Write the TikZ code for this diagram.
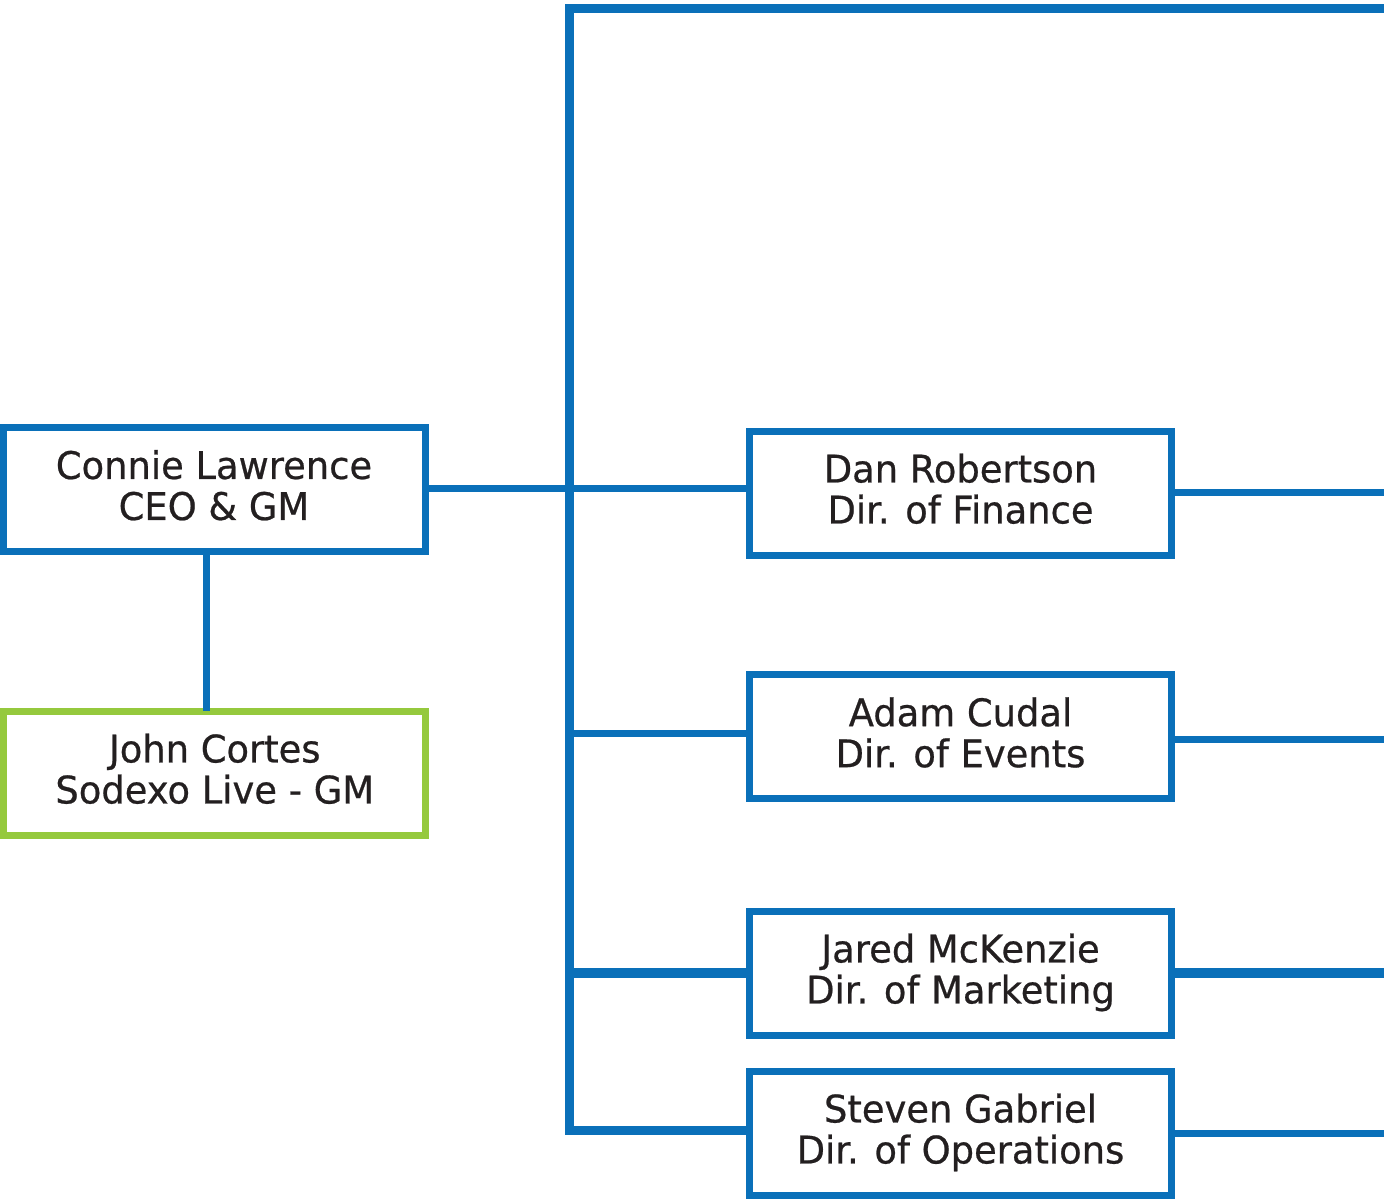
\documentclass[tikz,border=0pt]{standalone}
\usepackage{fontspec}
\setmainfont[FakeBold=0.6,FakeStretch=0.97]{DejaVu Sans}
\definecolor{orgblue}{RGB}{10,112,185}
\definecolor{orggreen}{RGB}{149,201,61}
\definecolor{txt}{RGB}{35,31,32}
\begin{document}
\begin{tikzpicture}[x=1pt,y=-1pt,
  box/.style={draw=orgblue,line width=7pt,fill=white,minimum width=422pt,minimum height=124pt,
    inner sep=0pt,outer sep=0pt,align=center,text=txt,font=\fontsize{38}{41}\selectfont,
    execute at end node={\rule[-9pt]{0pt}{0pt}}},
  gbox/.style={box,draw=orggreen},
  conn/.style={draw=orgblue,line width=7pt},
  trunk/.style={draw=orgblue,line width=9pt}]
\useasboundingbox (0,0) rectangle (1384,1199);
\coordinate (tTop) at (569.5,8.5);
\coordinate (tTopR) at (1384,8.5);
\coordinate (tBot) at (569.5,1130);
\coordinate (rEdge) at (1384,0);
\node[box] (connie) at (214,489.5) {Connie Lawrence\\CEO \& GM};
\node[gbox] (john) at (214.75,773) {John Cortes\\Sodexo Live - GM};
\node[box] (dan) at (960.5,493) {Dan Robertson\\Dir. of Finance};
\node[box] (adam) at (960.5,736.75) {Adam Cudal\\Dir. of Events};
\node[box] (jared) at (960.5,973) {Jared McKenzie\\Dir. of Marketing};
\node[box] (steven) at (960.5,1133) {Steven Gabriel\\Dir. of Operations};
% connectors
\draw[conn] ([xshift=-8pt]connie.south) -- ([xshift=-8pt]connie.south |- john.north);
\draw[conn] ([yshift=1pt]connie.east) -- ([yshift=1pt]connie.east -| dan.west);
\draw[trunk] (tTopR) -- (tTop) -- (tBot) -- (tBot -| steven.west);
\draw[conn] ([yshift=3.75pt]adam.west -| tTop) -- ([yshift=3.75pt]adam.west);
\draw[conn,line width=10pt] (jared.west -| tTop) -- (jared.west);
\draw[conn] ([yshift=0.5pt]dan.east) -- ([yshift=0.5pt]dan.east -| rEdge);
\draw[conn] ([yshift=-2.75pt]adam.east) -- ([yshift=-2.75pt]adam.east -| rEdge);
\draw[conn,line width=10pt] (jared.east) -- (jared.east -| rEdge);
\draw[conn] (steven.east) -- (steven.east -| rEdge);
\end{tikzpicture}
\end{document}
